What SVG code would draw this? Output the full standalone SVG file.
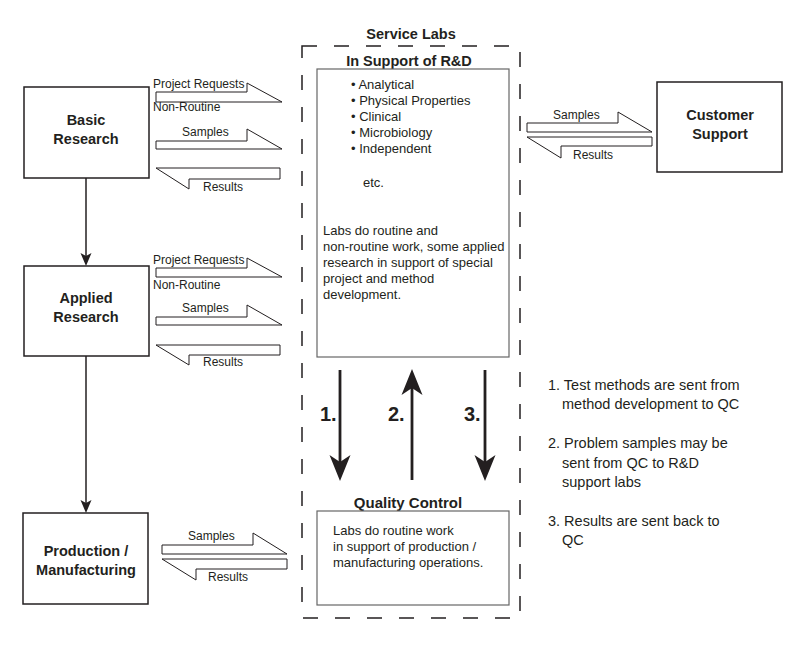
<svg xmlns="http://www.w3.org/2000/svg" width="800" height="647" viewBox="0 0 800 647">
<style>
text{font-family:"Liberation Sans",Arial,sans-serif;fill:#231f20}
.node{fill:#fff;stroke:#231f20;stroke-width:1.5}
.inner{fill:#fff;stroke:#666;stroke-width:1.2}
.nl{font-size:14.5px;font-weight:bold;text-anchor:middle}
.t{font-size:12px}
.b{font-size:13px}
.n{font-size:14.5px}
.big{font-size:20px;font-weight:bold}
.blk{fill:#fff;stroke:#231f20;stroke-width:1}
.ln{stroke:#231f20;fill:none}
.hd{fill:#231f20;stroke:none}
</style>
<rect width="800" height="647" fill="#fff"/>

<g id="service-labs">
<rect x="302" y="46" width="218" height="572" fill="none" stroke="#231f20" stroke-width="1.5" stroke-dasharray="15 17"/>
<text x="411" y="39" class="nl">Service Labs</text>
</g>

<g id="rd-support">
<text x="409" y="66" class="nl">In Support of R&amp;D</text>
<rect x="317" y="69" width="192" height="288" class="inner"/>
<text class="b" x="351" y="89">• Analytical</text>
<text class="b" x="351" y="105">• Physical Properties</text>
<text class="b" x="351" y="121">• Clinical</text>
<text class="b" x="351" y="137">• Microbiology</text>
<text class="b" x="351" y="153">• Independent</text>
<text class="b" x="363" y="187">etc.</text>
<text class="b" x="323" y="235">Labs do routine and</text>
<text class="b" x="323" y="251">non-routine work, some applied</text>
<text class="b" x="323" y="267">research in support of special</text>
<text class="b" x="323" y="283">project and method</text>
<text class="b" x="323" y="299">development.</text>
</g>

<g id="quality-control">
<text x="408" y="508" class="nl" style="font-size:15px">Quality Control</text>
<rect x="317" y="511" width="192" height="94" class="inner"/>
<text class="b" x="333" y="535">Labs do routine work</text>
<text class="b" x="333" y="551">in support of production /</text>
<text class="b" x="333" y="567">manufacturing operations.</text>
</g>

<g id="basic-research">
<rect x="24" y="87" width="125" height="91" class="node"/>
<text x="86" y="125" class="nl">Basic</text>
<text x="86" y="144" class="nl">Research</text>
</g>

<g id="applied-research">
<rect x="24" y="266" width="125" height="90" class="node"/>
<text x="86" y="303" class="nl">Applied</text>
<text x="86" y="322" class="nl">Research</text>
</g>

<g id="production">
<rect x="23" y="513" width="125" height="91" class="node"/>
<text x="86" y="556" class="nl">Production /</text>
<text x="86" y="575" class="nl">Manufacturing</text>
</g>

<g id="customer-support">
<rect x="657" y="82" width="125" height="90" class="node"/>
<text x="720" y="120" class="nl">Customer</text>
<text x="720" y="139" class="nl">Support</text>
</g>

<g id="notes">
<text class="n" x="548" y="390">1. Test methods are sent from</text>
<text class="n" x="562" y="409">method development to QC</text>
<text class="n" x="548" y="448">2. Problem samples may be</text>
<text class="n" x="562" y="468">sent from QC to R&amp;D</text>
<text class="n" x="562" y="487">support labs</text>
<text class="n" x="548" y="526">3. Results are sent back to</text>
<text class="n" x="562" y="545">QC</text>
</g>

<g id="connectors">
<!-- Basic -> Applied -> Production -->
<line x1="86" y1="178" x2="86" y2="258" class="ln" stroke-width="1.5"/>
<path d="M86,266 L80.5,253 L86,256 L91.5,253 Z" class="hd"/>
<line x1="86" y1="356" x2="86" y2="505" class="ln" stroke-width="1.5"/>
<path d="M86,513 L80.5,500 L86,503 L91.5,500 Z" class="hd"/>

<!-- Basic research block arrows -->
<polygon points="156,92 247,92 247,83 282,102 156,102" class="blk"/>
<polygon points="156,141 247,141 247,129 282,149 156,149" class="blk"/>
<polygon points="156,168 280,168 280,179 189,179 189,189" class="blk"/>
<text class="t" x="153" y="88">Project Requests</text>
<text class="t" x="153" y="111">Non-Routine</text>
<text class="t" x="182" y="136">Samples</text>
<text class="t" x="203" y="191">Results</text>

<!-- Applied research block arrows -->
<polygon points="156,268 247,268 247,258 282,277 156,277" class="blk"/>
<polygon points="156,317 247,317 247,305 282,325 156,325" class="blk"/>
<polygon points="156,345 280,345 280,355 189,355 189,365" class="blk"/>
<text class="t" x="153" y="264">Project Requests</text>
<text class="t" x="153" y="289">Non-Routine</text>
<text class="t" x="182" y="312">Samples</text>
<text class="t" x="203" y="366">Results</text>

<!-- Customer support block arrows -->
<polygon points="527,123 618,123 618,112 652,132 527,132" class="blk"/>
<polygon points="527,137 652,137 652,146 561,146 561,158" class="blk"/>
<text class="t" x="553" y="119">Samples</text>
<text class="t" x="573" y="159">Results</text>

<!-- Production block arrows -->
<polygon points="162,545 253,545 253,533 287,554 162,554" class="blk"/>
<polygon points="162,559 287,559 287,569 196,569 196,580" class="blk"/>
<text class="t" x="188" y="540">Samples</text>
<text class="t" x="208" y="581">Results</text>

<!-- QC arrows -->
<line x1="340" y1="370" x2="340" y2="465" class="ln" stroke-width="2.8"/>
<path d="M340,481 L329.5,455 L340,462 L350.5,455 Z" class="hd"/>
<line x1="412" y1="480" x2="412" y2="385" class="ln" stroke-width="2.8"/>
<path d="M412,369 L401.5,395 L412,388 L422.5,395 Z" class="hd"/>
<line x1="485" y1="370" x2="485" y2="465" class="ln" stroke-width="2.8"/>
<path d="M485,481 L474.5,455 L485,462 L495.5,455 Z" class="hd"/>
<text class="big" x="320" y="421">1.</text>
<text class="big" x="388" y="421">2.</text>
<text class="big" x="464" y="421">3.</text>
</g>
</svg>
